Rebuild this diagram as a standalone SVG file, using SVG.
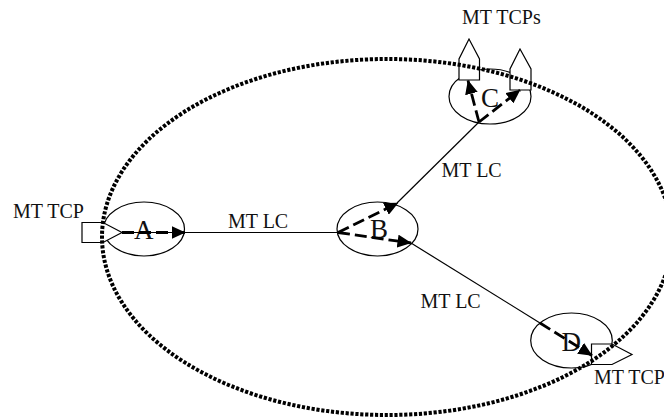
<svg xmlns="http://www.w3.org/2000/svg" width="664" height="417" viewBox="0 0 664 417">
<style>
.e{fill:none;stroke:#000;stroke-width:1.2}
.s{fill:#fff;stroke:#000;stroke-width:1.2}
.l{fill:none;stroke:#000;stroke-width:1.2}
.d{fill:none;stroke:#000;stroke-width:2.8;stroke-dasharray:12 5}
.t{font-family:"Liberation Serif",serif;font-size:20px;fill:#111}
.b{font-family:"Liberation Serif",serif;font-size:27px;fill:#111}
</style>
<defs>
<marker id="a" markerUnits="userSpaceOnUse" markerWidth="14" markerHeight="13" refX="13.500" refY="6.500" orient="auto"><path d="M0 0L14 6.500L0 13z" fill="#000"/></marker>
</defs>
<g id="node-a"><ellipse class="e" cx="144" cy="229" rx="40.500" ry="27"/><text class="b" x="134" y="239">A</text></g>
<g id="node-b"><ellipse class="e" cx="377.500" cy="229" rx="40.500" ry="27"/><text class="b" x="370" y="238">B</text></g>
<g id="node-c"><ellipse class="e" cx="490" cy="96.500" rx="41" ry="27.500"/><text class="b" x="481" y="107">C</text></g>
<g id="node-d"><ellipse class="e" cx="571.500" cy="340.500" rx="40.800" ry="27.500"/><text class="b" x="561.500" y="351">D</text></g>
<g id="tcp-a"><path class="s" d="M82 222.500H103L122 232.500L103 242.500H82z"/></g>
<g id="tcp-c1"><path class="s" d="M459 80V59L469 39L479.500 59V80z"/></g>
<g id="tcp-c2"><path class="s" d="M510 90V69L520 49L531 69V90z"/></g>
<g id="tcp-d"><path class="s" d="M591.500 344H612L632 354.500L612 364.500H591.500z"/></g>
<g id="connectors">
<path class="l" d="M122 232.500H338"/>
<path class="l" d="M397 203L479 122"/>
<path class="l" d="M411 243L540 323"/>
<path class="d" marker-end="url(#a)" d="M122 232.500H185"/>
<path class="d" marker-end="url(#a)" d="M338 232.500L398 203"/>
<path class="d" marker-end="url(#a)" d="M338 232.500L411 243"/>
<path class="d" marker-end="url(#a)" d="M479 122L468 80.500"/>
<path class="d" marker-end="url(#a)" d="M479 122L520 90"/>
<path class="d" marker-end="url(#a)" d="M540 323L592 355.500"/>
</g>
<g id="domain"><ellipse cx="387" cy="237" rx="285" ry="178" fill="none" stroke="#000" stroke-width="4" stroke-dasharray="3.200 1.700"/></g>
<g id="labels">
<text class="t" x="13" y="218">MT TCP</text>
<text class="t" x="462" y="24">MT TCPs</text>
<text class="t" x="228" y="228">MT LC</text>
<text class="t" x="441.500" y="177">MT LC</text>
<text class="t" x="420.500" y="308">MT LC</text>
<text class="t" x="594" y="384">MT TCP</text>
</g>
</svg>
